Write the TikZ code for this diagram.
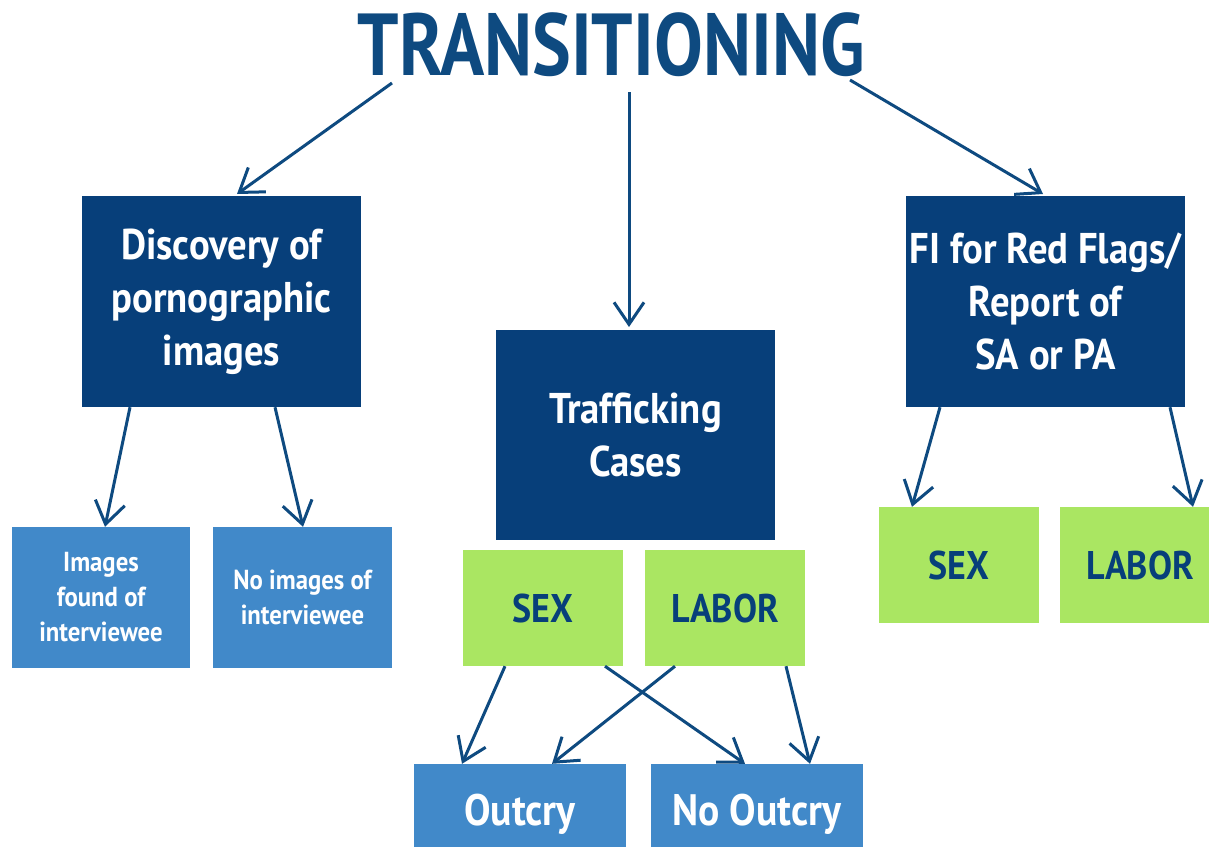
\documentclass[tikz,border=0pt]{standalone}
\usepackage{fontspec}
\setmainfont{PT Sans}[FakeStretch=0.9]
\newfontfamily\titlefont{PT Sans}[FakeStretch=0.83]
\usetikzlibrary{arrows.meta}
\definecolor{dkblue}{HTML}{073F7A}
\definecolor{mdblue}{HTML}{4189C9}
\definecolor{ltgreen}{HTML}{AAE662}
\definecolor{arrowblue}{HTML}{0E4A80}
\tikzset{
  x=1pt, y=-1pt,
  darkbox/.style={fill=dkblue, text=white, font=\fontsize{43}{53}\selectfont\bfseries, align=center, inner sep=0pt},
  midbox/.style={fill=mdblue, text=white, font=\fontsize{27.5}{35}\selectfont\bfseries, align=center, inner sep=0pt},
  greenbox/.style={fill=ltgreen, text=dkblue, font=\fontsize{40}{50}\selectfont\bfseries, align=center, inner sep=0pt, minimum width=160pt, minimum height=116pt},
  outbox/.style={fill=mdblue, text=white, font=\fontsize{44}{50}\selectfont\bfseries, align=center, inner sep=0pt, minimum width=212pt, minimum height=100pt},
  arr/.style={draw=arrowblue, line width=3pt, -{Straight Barb[length=22pt, width=30pt, line width=3pt]}}
}
\begin{document}
\begin{tikzpicture}
\useasboundingbox (0,0) rectangle (1209,846);
\clip (0,0) rectangle (1209,846);
\fill[white] (0,0) rectangle (1209,846);
\node[text=arrowblue, font=\titlefont\fontsize{88}{90}\selectfont\bfseries, inner sep=0pt] (title) at (611,45) {TRANSITIONING};
\node[darkbox, minimum width=279pt, minimum height=211pt] (disc) at (221.5,301.5) {Discovery of\\pornographic\\images};
\node[darkbox, minimum width=279pt, minimum height=210pt] (traf) at (635.5,435) {Trafficking\\Cases};
\node[darkbox, minimum width=279pt, minimum height=211pt] (fi) at (1045.5,301.5) {FI for Red Flags/\\Report of\\SA or PA};
\node[midbox, minimum width=178pt, minimum height=141pt] (img) at (101,597.5) {Images\\found of\\interviewee};
\node[midbox, minimum width=179pt, minimum height=141pt] (noimg) at (302.5,597.5) {No images of\\interviewee};
\node[greenbox] (sexm) at (543,608) {SEX};
\node[greenbox] (labm) at (725,608) {LABOR};
\node[greenbox] (sexr) at (959,565) {SEX};
\node[greenbox] (labr) at (1140,565) {LABOR};
\node[outbox] (outc) at (520,814) {Outcry};
\node[outbox] (noout) at (757,814) {No Outcry};
% connectors
\coordinate (t1) at (392,83);
\coordinate (t2) at (629,92);
\coordinate (t3) at (850,80);
\draw[arr] (t1) -- (237,194);
\draw[arr] (t2) -- (629,327);
\draw[arr] (t3) -- (1043,194);
\draw[arr] ([xshift=-91.5pt]disc.south) -- ([xshift=4pt]img.north);
\draw[arr] ([xshift=53.5pt]disc.south) -- ([xshift=0.5pt]noimg.north);
\draw[arr] ([xshift=-105.5pt]fi.south) -- ([xshift=-47pt]sexr.north);
\draw[arr] ([xshift=124.5pt]fi.south) -- ([xshift=53pt]labr.north);
\draw[arr] ([xshift=-38pt]sexm.south) -- ([xshift=-58pt]outc.north);
\draw[arr] ([xshift=62pt]sexm.south) -- ([xshift=-12pt]noout.north);
\draw[arr] ([xshift=-50pt]labm.south) -- ([xshift=32pt]outc.north);
\draw[arr] ([xshift=61pt]labm.south) -- ([xshift=53pt]noout.north);
\end{tikzpicture}
\end{document}
